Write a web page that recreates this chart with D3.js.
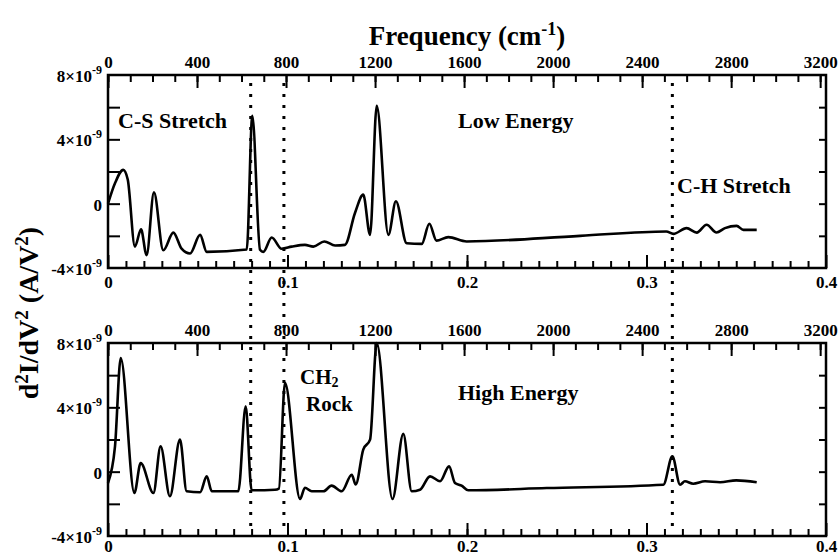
<!DOCTYPE html>
<html>
<head>
<meta charset="utf-8">
<script src="https://cdn.jsdelivr.net/npm/d3@7"></script>
<style>
  body { margin: 0; background: #fff; }
  svg { display: block; }
  text { font-family: "Liberation Serif", "Times New Roman", serif; font-weight: bold; fill: #000; }
</style>
</head>
<body>
<svg id="chart" width="839" height="556"></svg>
<script>
// spectra, x in eV, y in units of 1e-9 A/V^2
const lowEnergy = [
  [0.0, 0.0], [0.004, 1.3], [0.0085, 2.1], [0.011, 1.5], [0.015, -2.67],
  [0.0184, -1.6], [0.0215, -3.2], [0.0256, 0.7], [0.0308, -2.9], [0.0364, -1.8],
  [0.041, -2.8], [0.0457, -3.1], [0.0513, -1.94], [0.055, -3.0], [0.0773, -2.85],
  [0.0804, 5.46], [0.0847, -2.87], [0.0865, -3.0], [0.0912, -2.1], [0.0967, -2.8],
  [0.1023, -2.67], [0.1097, -2.56], [0.1144, -2.67], [0.1205, -2.35], [0.1265, -2.6],
  [0.132, -2.56], [0.1376, -0.58], [0.1422, 0.56], [0.146, -1.94], [0.1497, 6.08],
  [0.1562, -1.94], [0.1604, 0.15], [0.1664, -2.46], [0.1748, -2.5], [0.179, -1.25],
  [0.183, -2.3], [0.1896, -2.08], [0.1998, -2.35], [0.263, -2.0], [0.311, -1.73],
  [0.315, -1.88], [0.3223, -1.52], [0.328, -1.8], [0.3335, -1.31], [0.339, -1.79],
  [0.3437, -1.52], [0.3502, -1.38], [0.354, -1.63], [0.3614, -1.63]
]
const highEnergy = [
  [0.0, -0.7], [0.0039, 1.57], [0.0071, 7.07], [0.0147, -1.33], [0.0182, 0.54],
  [0.0253, -1.33], [0.0293, 1.57], [0.0345, -1.53], [0.0401, 1.99], [0.0438, -1.22],
  [0.0513, -1.28], [0.055, -0.29], [0.0578, -1.22], [0.0726, -1.22], [0.0767, 4.06],
  [0.080, -1.16], [0.093, -1.12], [0.0952, -1.05], [0.0986, 5.52], [0.107, -1.7],
  [0.1097, -1.0], [0.1135, -1.22], [0.12, -1.22], [0.1246, -0.87], [0.1302, -1.22],
  [0.1358, -0.19], [0.138, -0.8], [0.1422, 1.37], [0.146, 1.99], [0.1497, 8.0],
  [0.1585, -1.7], [0.1645, 2.35], [0.1692, -1.22], [0.1738, -1.12], [0.1794, -0.29],
  [0.185, -0.6], [0.19, 0.33], [0.1933, -0.7], [0.197, -0.87], [0.2007, -1.16],
  [0.2444, -1.02], [0.3094, -0.81], [0.3144, 0.95], [0.3187, -0.81], [0.3214, -0.6],
  [0.326, -0.75], [0.3326, -0.6], [0.341, -0.66], [0.350, -0.54], [0.3614, -0.66]
]

const energyTicks = [0, 0.1, 0.2, 0.3, 0.4]
const freqTicks = [0, 400, 800, 1200, 1600, 2000, 2400, 2800, 3200]
const yTicks = [8, 4, 0, -4]
const markerLines = [0.0795, 0.098, 0.3144]

const svg = d3.select("#chart")
const width = 839
const marginLeft = 108
const marginRight = 13
const panelHeight = 193
const panels = [
  {top: 75, data: lowEnergy, label: "Low Energy", labelY: 128, tickY: 20},
  {top: 343, data: highEnergy, label: "High Energy", labelY: 400, tickY: 16}
]
const cmToEv = 1.23984e-4

const xScale = d3.scaleLinear().domain([0, 0.4]).range([marginLeft, width - marginRight])
const freqScale = d3.scaleLinear().domain([0, 3200]).range([xScale(0), xScale(3200 * cmToEv)])

panels.forEach(drawPanel)
drawMarkers()
drawTitles()

function drawPanel(p) {
  const yScale = d3.scaleLinear().domain([-4, 8]).range([p.top + panelHeight, p.top])
  const g = svg.append("g")

  // bottom energy axis, ticks pointing inward
  g.append("g")
    .attr("transform", `translate(0,${p.top + panelHeight})`)
    .call(d3.axisBottom(xScale).tickValues(d3.range(1, 40).map(i => i / 100)).tickSize(-7).tickFormat(""))
  g.append("g")
    .attr("class", "lab")
    .attr("transform", `translate(0,${p.top + panelHeight})`)
    .call(d3.axisBottom(xScale).tickValues(energyTicks).tickSize(-13)
      .tickFormat(d => d === 0 ? "0" : d.toFixed(1)))

  // top frequency axis
  g.append("g")
    .attr("transform", `translate(0,${p.top})`)
    .call(d3.axisTop(freqScale).tickValues(d3.range(0, 3300, 100)).tickSize(-7).tickFormat(""))
  g.append("g")
    .attr("class", "lab top")
    .attr("transform", `translate(0,${p.top})`)
    .call(d3.axisTop(freqScale).tickValues(freqTicks).tickSize(-13).tickFormat(d3.format("d")))

  // left and right
  g.append("g")
    .attr("transform", `translate(${marginLeft},0)`)
    .call(d3.axisLeft(yScale).tickValues(d3.range(-2, 8, 2)).tickSize(-12).tickFormat(""))
  g.append("g")
    .attr("transform", `translate(${width - marginRight},0)`)
    .call(d3.axisRight(yScale).tickValues(d3.range(-2, 8, 2)).tickSize(-7).tickFormat(""))

  g.selectAll("g").attr("font-family", null).attr("font-size", null)
  g.selectAll(".domain").remove()
  g.selectAll(".tick line").attr("stroke", "#000").attr("stroke-width", 2)
  g.selectAll(".lab text")
    .attr("font-size", 17)
    .attr("dy", null)
    .attr("y", p.tickY)
  g.selectAll(".lab.top text").attr("y", -7)

  // y tick labels with superscript exponent
  const yLab = g.selectAll(".ylab").data(yTicks).join("text")
    .attr("class", "ylab")
    .attr("x", marginLeft - 6)
    .attr("y", d => yScale(d) + 7)
    .attr("text-anchor", "end")
    .attr("font-size", 17)
  yLab.append("tspan").text(d => d === 0 ? "0" : `${d}×10`)
  yLab.filter(d => d !== 0).append("tspan")
    .attr("dy", -8).attr("font-size", 12).text("-9")

  // frame
  g.append("rect")
    .attr("x", marginLeft).attr("y", p.top)
    .attr("width", xScale(0.4) - marginLeft).attr("height", panelHeight)
    .attr("fill", "none").attr("stroke", "#000").attr("stroke-width", 2.5)

  const line = d3.line()
    .x(d => xScale(d[0]))
    .y(d => yScale(d[1]))
    .curve(d3.curveMonotoneX)
  g.append("path")
    .datum(p.data)
    .attr("d", line)
    .attr("fill", "none")
    .attr("stroke", "#000")
    .attr("stroke-width", 2.6)
    .attr("stroke-linejoin", "round")

  g.append("text")
    .attr("x", 458).attr("y", p.labelY)
    .attr("font-size", 22)
    .text(p.label)
}

function drawMarkers() {
  svg.selectAll(".marker").data(markerLines).join("line")
    .attr("class", "marker")
    .attr("x1", d => xScale(d)).attr("x2", d => xScale(d))
    .attr("y1", 83).attr("y2", 528)
    .attr("stroke", "#000")
    .attr("stroke-width", 3)
    .attr("stroke-dasharray", "3,8")
}

function drawTitles() {
  const t = svg.append("text")
    .attr("x", 467).attr("y", 45)
    .attr("text-anchor", "middle")
    .attr("font-size", 27)
  t.append("tspan").text("Frequency (cm")
  t.append("tspan").attr("dy", -10).attr("font-size", 18).text("-1")
  t.append("tspan").attr("dy", 10).text(")")

  const yt = svg.append("text")
    .attr("transform", "translate(38,313) rotate(-90)")
    .attr("text-anchor", "middle")
    .attr("font-size", 28)
  yt.append("tspan").text("d")
  yt.append("tspan").attr("dy", -10).attr("font-size", 19).text("2")
  yt.append("tspan").attr("dy", 10).text("I/dV")
  yt.append("tspan").attr("dy", -10).attr("font-size", 19).text("2")
  yt.append("tspan").attr("dy", 10).text(" (A/V")
  yt.append("tspan").attr("dy", -10).attr("font-size", 19).text("2")
  yt.append("tspan").attr("dy", 10).text(")")

  svg.append("text").attr("x", 118).attr("y", 128).attr("font-size", 22).text("C-S Stretch")
  svg.append("text").attr("x", 677).attr("y", 193).attr("font-size", 22).text("C-H Stretch")
  const ch = svg.append("text").attr("x", 300).attr("y", 384).attr("font-size", 21)
  ch.append("tspan").text("CH")
  ch.append("tspan").attr("dy", 3).attr("font-size", 14).text("2")
  svg.append("text").attr("x", 306).attr("y", 411).attr("font-size", 21).text("Rock")
}
</script>
</body>
</html>
